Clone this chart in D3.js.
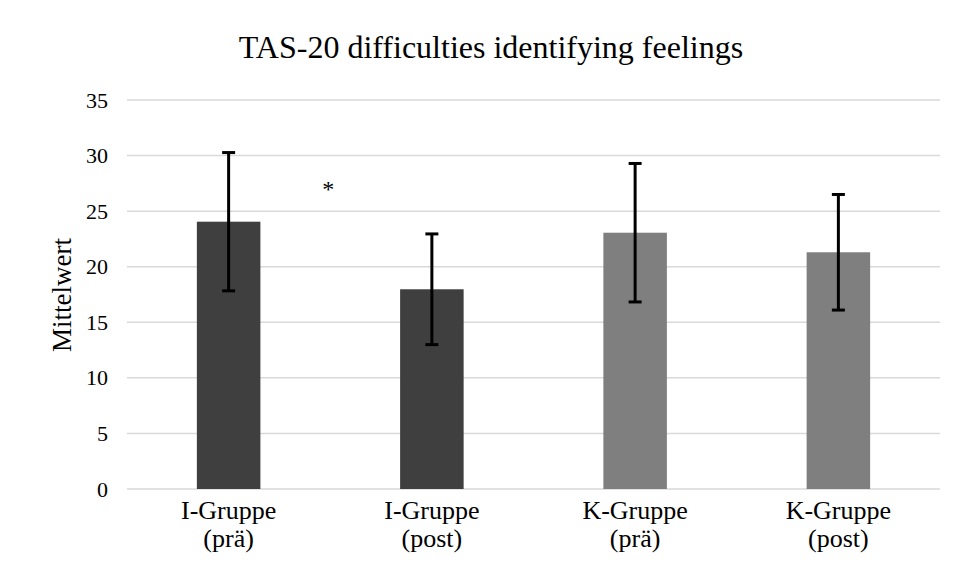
<!DOCTYPE html>
<html>
<head>
<meta charset="utf-8">
<script src="https://cdn.jsdelivr.net/npm/d3@7"></script>
<style>
  html, body { margin: 0; padding: 0; background: #fff; }
  svg text { font-family: "Liberation Serif", "Times New Roman", serif; fill: #000; }
</style>
</head>
<body>
<svg id="chart" width="957" height="581"></svg>
<script>
const categories = [["I-Gruppe", "(prä)"], ["I-Gruppe", "(post)"], ["K-Gruppe", "(prä)"], ["K-Gruppe", "(post)"]];
const means = [24.05, 17.97, 23.06, 21.3];
const errors = [6.22, 4.98, 6.23, 5.2];
const groups = ["I", "I", "K", "K"];
const yTicks = [0, 5, 10, 15, 20, 25, 30, 35];
const title = "TAS-20 difficulties identifying feelings";
const yLabel = "Mittelwert";
const significance = "*";

const svg = d3.select("#chart");
const W = 957, H = 581;
svg.append("rect").attr("width", W).attr("height", H).attr("fill", "#fff");

const margin = { left: 127, right: 17, top: 100, bottom: 92 };
const x = d3.scaleBand().domain(d3.range(categories.length)).range([margin.left, W - margin.right]).paddingInner(0.6875).paddingOuter(0.34375);
const y = d3.scaleLinear().domain([0, 35]).range([H - margin.bottom, margin.top]);
const color = d3.scaleOrdinal().domain(["I", "K"]).range(["#3f3f3f", "#7f7f7f"]);

// gridlines
svg.append("g").selectAll("line").data(yTicks).join("line")
  .attr("x1", margin.left).attr("x2", W - margin.right)
  .attr("y1", d => y(d)).attr("y2", d => y(d))
  .attr("stroke", "#d9d9d9").attr("stroke-width", 1.5);

// y axis labels
const yAxis = d3.axisLeft(y).tickValues(yTicks).tickSize(0).tickPadding(19);
const yg = svg.append("g").attr("transform", `translate(${margin.left},0)`).call(yAxis);
yg.select(".domain").remove();
yg.selectAll("text").attr("font-size", 22).attr("font-family", "Liberation Serif, serif").attr("fill", "#000");

// bars
svg.append("g").selectAll("rect").data(means).join("rect")
  .attr("x", (d, i) => x(i)).attr("width", x.bandwidth())
  .attr("y", d => y(d)).attr("height", d => y(0) - y(d))
  .attr("fill", (d, i) => color(groups[i]));

// error bars
const eg = svg.append("g").attr("stroke", "#000").attr("stroke-width", 3);
means.forEach((m, i) => {
  const cx = x(i) + x.bandwidth() / 2;
  eg.append("line").attr("x1", cx).attr("x2", cx).attr("y1", y(m + errors[i])).attr("y2", y(m - errors[i]));
  eg.append("line").attr("x1", cx - 6.5).attr("x2", cx + 6.5).attr("y1", y(m + errors[i])).attr("y2", y(m + errors[i]));
  eg.append("line").attr("x1", cx - 6.5).attr("x2", cx + 6.5).attr("y1", y(m - errors[i])).attr("y2", y(m - errors[i]));
});

// x labels
const xg = svg.append("g");
categories.forEach((c, i) => {
  const cx = x(i) + x.bandwidth() / 2;
  const t = xg.append("text").attr("x", cx).attr("y", 519).attr("text-anchor", "middle").attr("font-size", 26);
  t.append("tspan").attr("x", cx).text(c[0]);
  t.append("tspan").attr("x", cx).attr("dy", 28).text(c[1]);
});

// title
svg.append("text").attr("x", 491).attr("y", 58).attr("text-anchor", "middle").attr("font-size", 32).text(title);

// y label
svg.append("text").attr("transform", "translate(71,295) rotate(-90)").attr("text-anchor", "middle").attr("font-size", 27).text(yLabel);

// significance marker
const sx = (x(0) + x(1) + x.bandwidth()) / 2;
svg.append("text").attr("x", sx - 2).attr("y", 197).attr("text-anchor", "middle").attr("font-size", 24).text(significance);
</script>
</body>
</html>
